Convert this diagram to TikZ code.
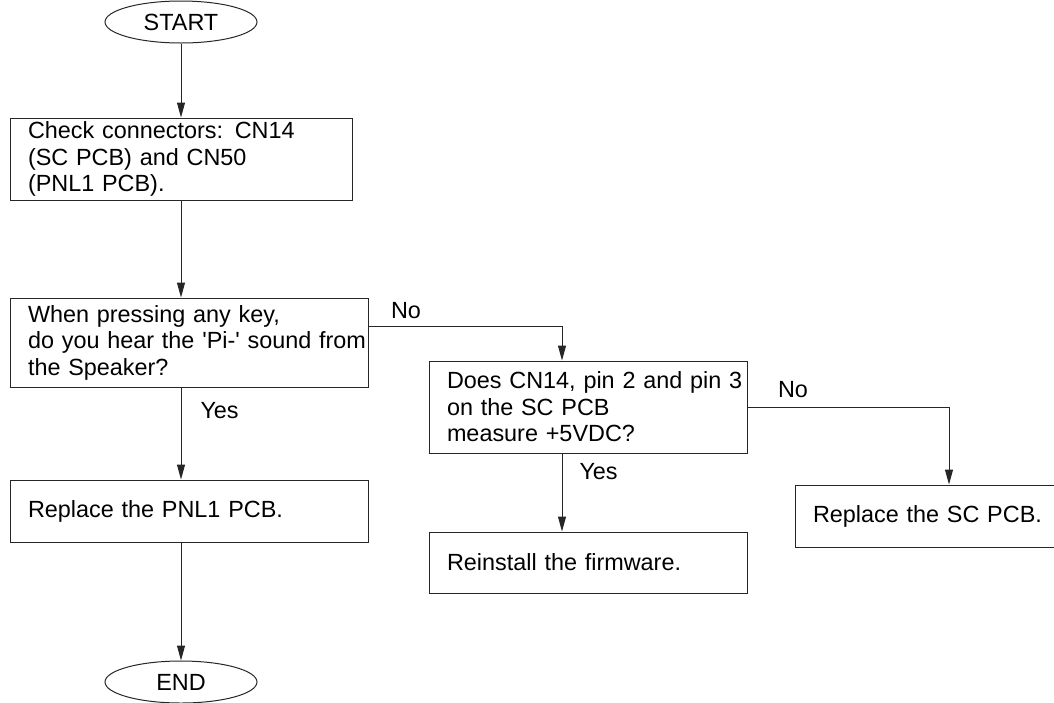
\documentclass[tikz,border=0pt]{standalone}
\usepackage{fontspec}
\setmainfont{Liberation Sans}
\usetikzlibrary{shapes.geometric, arrows.meta, positioning}
\hfuzz=20pt

\begin{document}
\begin{tikzpicture}[
    x=1pt, y=1pt,
    node distance=20pt,
    term/.style={ellipse, draw=black!85, line width=1pt, minimum width=152pt, minimum height=42pt, inner sep=0pt, font=\fontsize{23.4pt}{26.5pt}\selectfont},
    box/.style={rectangle, draw=black!85, line width=1pt, align=left, inner xsep=18pt, inner ysep=0pt, font=\fontsize{23.4pt}{26.5pt}\selectfont},
    lbl/.style={inner sep=0pt, font=\fontsize{23.4pt}{26.5pt}\selectfont},
    arrow/.style={-{Triangle[length=15pt, width=8pt]}, draw=black!85, line width=1pt}
]
\useasboundingbox (0,0) rectangle (1054,-702);

\node[term] (start) at (181,-22) {START};
\node[box, text width=306pt, minimum height=82pt, below=74pt of start] (check) {\mbox{Check connectors: CN14}\\\mbox{(SC PCB) and CN50}\\\mbox{(PNL1 PCB).}};
\node[box, text width=322pt, minimum height=89pt, below=97pt of check.south west, anchor=north west] (beep) {\mbox{When pressing any key,}\\\mbox{do you hear the {\textquotesingle}Pi-{\textquotesingle} sound from}\\\mbox{the Speaker?}};
\node[box, text width=322pt, minimum height=62pt, below=92pt of beep.south west, anchor=north west] (pnl) {\mbox{Replace the PNL1 PCB.}};
\node[term, below=118pt] (end) at (start |- pnl.south) {END};
\node[box, text width=282pt, minimum height=92pt, below right=63pt and 60pt of beep.north east] (volt) {\mbox{Does CN14, pin 2 and pin 3}\\\mbox{on the SC PCB}\\\mbox{measure +5VDC?}};
\node[box, text width=282pt, minimum height=61pt, below=78pt of volt.south west, anchor=north west] (reinst) {\mbox{Reinstall the firmware.}};
\node[box, text width=224pt, minimum height=62pt, below right=124pt and 47pt of volt.north east] (scpcb) {\mbox{Replace the SC PCB.}};

\draw[arrow] (start) -- (check);
\draw[arrow] (check) -- (check |- beep.north);
\draw[arrow] (beep.south -| start) -- node[lbl, pos=0, anchor=base west, xshift=19pt, yshift=-31pt] (yes1) {Yes} (pnl.north -| start);
\draw[arrow] (pnl.south -| start) -- (end);
\draw[arrow] ([yshift=16pt]beep.east) -| node[lbl, pos=0, anchor=base west, xshift=22pt, yshift=8pt] (no1) {No} ([xshift=-26pt]volt.north);
\draw[arrow] ([xshift=-26pt]volt.south) -- node[lbl, pos=0, anchor=base west, xshift=17pt, yshift=-26pt] (yes2) {Yes} ([xshift=-26pt]volt.south |- reinst.north);
\draw[arrow] (volt.east) -| node[lbl, pos=0, anchor=base west, xshift=30pt, yshift=10pt] (no2) {No} ([xshift=24pt]scpcb.north);
\end{tikzpicture}
\end{document}
